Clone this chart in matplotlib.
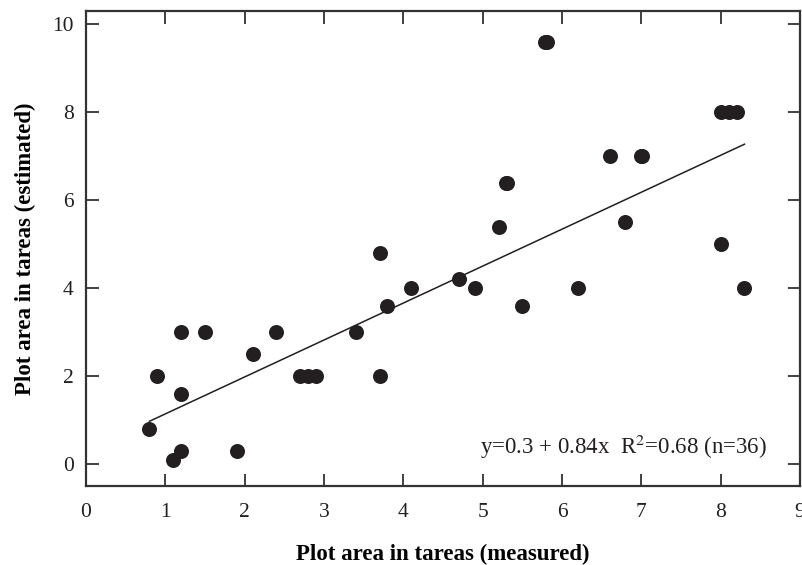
import matplotlib
matplotlib.use("Agg")
import matplotlib.pyplot as plt
import numpy as np

# measured vs estimated plot area (tareas)
measured = [0.8, 0.9, 1.1, 1.2, 1.2, 1.2, 1.5, 1.9, 2.1, 2.4,
            2.7, 2.8, 2.9, 3.4, 3.7, 3.7, 3.8, 4.1, 4.7, 4.9,
            5.2, 5.29, 5.31, 5.5, 5.79, 5.81, 6.2, 6.6, 6.8, 6.99,
            7.01, 8.0, 8.0, 8.1, 8.2, 8.3]
estimated = [0.8, 2.0, 0.1, 0.3, 1.6, 3.0, 3.0, 0.3, 2.5, 3.0,
             2.0, 2.0, 2.0, 3.0, 2.0, 4.8, 3.6, 4.0, 4.2, 4.0,
             5.4, 6.4, 6.4, 3.6, 9.6, 9.6, 4.0, 7.0, 5.5, 7.0,
             7.0, 5.0, 8.0, 8.0, 8.0, 4.0]

# regression line from the paper
intercept = 0.3
slope = 0.84
fit_range = [0.8, 8.3]
label_text = "y=0.3 + 0.84x  R$^2$=0.68 (n=36)"

x_ticks = [0, 1, 2, 3, 4, 5, 6, 7, 8, 9]
y_ticks = [0, 2, 4, 6, 8, 10]

plt.rcParams['font.family'] = ['Liberation Serif', 'DejaVu Serif']
plt.rcParams['mathtext.fontset'] = 'stix'

fig = plt.figure(figsize=(8.03, 5.65), dpi=100)
ax = fig.add_axes([0.1071, 0.1398, 0.8892, 0.8407])

ax.plot(measured, estimated, 'o', color='#231f20', markersize=10.8,
        markeredgewidth=0, zorder=3)

xs = np.array(fit_range)
ax.plot(xs, intercept + slope * xs, color='#231f20', linewidth=1.1, zorder=2)

ax.text(4.97, 0.39, label_text, fontsize=16.5, ha='left', va='center',
        color='#231f20')

ax.set_xlim(0, 9)
ax.set_ylim(-0.5, 10.3)
ax.set_xticks(x_ticks)
ax.set_yticks(y_ticks)
ax.tick_params(direction='in', length=9, width=1.2, top=True, right=True,
               labelsize=15.5, colors='#231f20')
ax.tick_params(axis='x', pad=12)
ax.tick_params(axis='y', pad=9)
for spine in ax.spines.values():
    spine.set_linewidth(1.6)
    spine.set_color('#333333')

ax.set_xlabel('Plot area in tareas (measured)', fontsize=16.5,
              fontweight='bold', labelpad=16)
ax.set_ylabel('Plot area in tareas (estimated)', fontsize=16.5,
              fontweight='bold')
ax.yaxis.set_label_coords(-0.07, 0.5)

fig.savefig('out.png', dpi=100)
